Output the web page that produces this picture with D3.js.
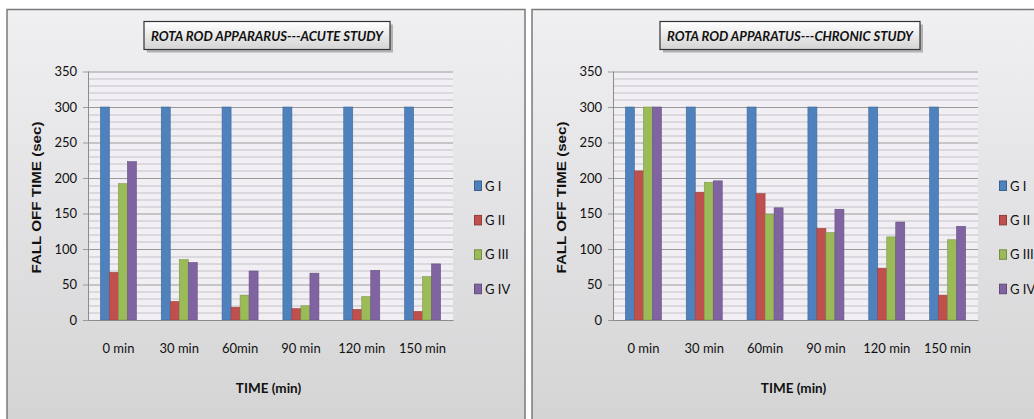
<!DOCTYPE html>
<html>
<head>
<meta charset="utf-8">
<script src="https://cdn.jsdelivr.net/npm/d3@7"></script>
<style>
  body { margin: 0; background: #fff; }
  svg { display: block; }
  .tick text { font-family: Lato, "Open Sans", sans-serif; }
</style>
</head>
<body>
<svg id="root" width="1034" height="419"></svg>
<script>
// Categories and series
const times = ["0 min", "30 min", "60min", "90 min", "120 min", "150 min"]
const groups = ["G I", "G II", "G III", "G IV"]
const colours = ["#4f81bd", "#c0504d", "#9bbb59", "#8064a2"]
const yTicks = [0, 50, 100, 150, 200, 250, 300, 350]

// Acute study, fall off time (sec)
const acuteGI = [300, 300, 300, 300, 300, 300]
const acuteGII = [67, 26, 18, 16, 15, 12]
const acuteGIII = [192, 85, 35, 20, 33, 61]
const acuteGIV = [223, 81, 69, 66, 70, 79]

// Chronic study, fall off time (sec)
const chronicGI = [300, 300, 300, 300, 300, 300]
const chronicGII = [210, 180, 178, 129, 73, 35]
const chronicGIII = [300, 194, 149, 123, 117, 113]
const chronicGIV = [300, 196, 158, 156, 138, 132]

const panels = [
  { x: 7, w: 518, titleX: 137, title: "ROTA ROD APPARARUS---ACUTE STUDY", titleW: 246,
    series: [acuteGI, acuteGII, acuteGIII, acuteGIV] },
  { x: 532, w: 520, titleX: 128, title: "ROTA ROD APPARATUS---CHRONIC STUDY", titleW: 260,
    series: [chronicGI, chronicGII, chronicGIII, chronicGIV] }
]

const svg = d3.select("#root")
const defs = svg.append("defs")

let bg = defs.append("linearGradient").attr("id", "panelBg")
  .attr("x1", 0).attr("y1", 0).attr("x2", 0).attr("y2", 1)
bg.append("stop").attr("offset", 0).attr("stop-color", "#f0eff2")
bg.append("stop").attr("offset", 1).attr("stop-color", "#d3d3d4")

let tb = defs.append("linearGradient").attr("id", "titleBg")
  .attr("x1", 0).attr("y1", 0).attr("x2", 0).attr("y2", 1)
tb.append("stop").attr("offset", 0).attr("stop-color", "#ffffff")
tb.append("stop").attr("offset", 1).attr("stop-color", "#d4d4d4")

panels.forEach(drawPanel)

function drawPanel(p) {
  const g = svg.append("g").attr("transform", `translate(${p.x},9.5)`)

  // Panel frame
  g.append("rect")
    .attr("width", p.w).attr("height", 430)
    .attr("fill", "url(#panelBg)")
    .attr("stroke", "#7a7a7a").attr("stroke-width", 1.5)

  // Title box with shadow
  const tx = p.titleX
  g.append("rect")
    .attr("x", tx + 3).attr("y", 15).attr("width", p.titleW).attr("height", 28)
    .attr("fill", "#8a8a8a").attr("opacity", 0.6)
  g.append("rect")
    .attr("x", tx).attr("y", 12).attr("width", p.titleW).attr("height", 28)
    .attr("fill", "url(#titleBg)")
    .attr("stroke", "#333").attr("stroke-width", 1.2)
  g.append("text")
    .attr("x", tx + p.titleW / 2).attr("y", 31.5)
    .attr("text-anchor", "middle")
    .attr("font-family", "Lato, sans-serif")
    .attr("font-style", "italic")
    .attr("font-weight", "bold")
    .attr("font-size", 14)
    .attr("textLength", p.titleW - 14)
    .attr("lengthAdjust", "spacingAndGlyphs")
    .attr("fill", "#111")
    .text(p.title)

  // Plot area
  const plot = { left: 81, top: 62, width: 365, height: 248.5 }
  const x = d3.scaleBand().domain(times)
    .range([0, plot.width]).paddingInner(0.408).paddingOuter(0.204)
  const xs = d3.scaleBand().domain(groups).range([0, x.bandwidth()])
  const y = d3.scaleLinear().domain([0, 350]).range([plot.height, 0])

  const pg = g.append("g").attr("transform", `translate(${plot.left},${plot.top})`)
  pg.append("rect")
    .attr("width", plot.width).attr("height", plot.height)
    .attr("fill", "#f1eff3")

  // Minor gridlines every 10
  pg.append("g").selectAll("line")
    .data(d3.range(10, 350, 10).filter(v => v % 50 !== 0))
    .join("line")
    .attr("x1", 0).attr("x2", plot.width)
    .attr("y1", d => Math.round(y(d)) + 0.5).attr("y2", d => Math.round(y(d)) + 0.5)
    .attr("stroke", "#c4c2c6").attr("stroke-width", 1)

  // Major gridlines + y axis
  const yAxis = d3.axisLeft(y).tickValues(yTicks).tickSize(-plot.width).tickPadding(11)
  pg.append("g").call(yAxis)
    .call(a => a.select(".domain").remove())
    .call(a => a.selectAll(".tick line").attr("stroke", "#9a9a9a").attr("x1", -5))
    .call(a => a.selectAll(".tick text").attr("font-size", 13).attr("fill", "#111"))
  pg.append("line")
    .attr("x1", 0.5).attr("x2", 0.5).attr("y1", 0).attr("y2", plot.height)
    .attr("stroke", "#8c8c8c")

  // Bars
  const grp = pg.selectAll("g.group")
    .data(times)
    .join("g").attr("class", "group")
    .attr("transform", t => `translate(${x(t)},0)`)
  grp.selectAll("rect")
    .data((t, i) => groups.map((s, j) => ({ s, j, v: p.series[j][i] })))
    .join("rect")
    .attr("x", d => xs(d.s))
    .attr("width", xs.bandwidth())
    .attr("y", d => y(d.v))
    .attr("height", d => plot.height - y(d.v))
    .attr("fill", d => colours[d.j])
    .attr("stroke", d => d3.color(colours[d.j]).darker(0.6))
    .attr("stroke-width", 0.6)

  // X axis
  const xAxis = d3.axisBottom(x).tickSize(0).tickPadding(24)
  pg.append("g").attr("transform", `translate(0,${plot.height})`).call(xAxis)
    .call(a => a.select(".domain").attr("stroke", "#8c8c8c"))
    .call(a => a.selectAll(".tick text").attr("font-size", 13).attr("fill", "#111"))

  // Axis titles
  g.append("text")
    .attr("transform", `translate(34,188) rotate(-90)`)
    .attr("text-anchor", "middle")
    .attr("font-family", "Liberation Sans, Arial, sans-serif")
    .attr("font-weight", "bold")
    .attr("font-size", 13.5)
    .attr("textLength", 152)
    .attr("lengthAdjust", "spacingAndGlyphs")
    .attr("fill", "#111")
    .text("FALL OFF TIME  (sec)")
  g.append("text")
    .attr("x", plot.left + plot.width / 2 - 2).attr("y", 383)
    .attr("text-anchor", "middle")
    .attr("font-family", "Lato, sans-serif")
    .attr("font-weight", "bold")
    .attr("font-size", 13.5)
    .attr("fill", "#111")
    .text("TIME (min)")

  // Legend
  const lg = g.append("g").attr("transform", "translate(467,171)")
  const item = lg.selectAll("g")
    .data(groups)
    .join("g")
    .attr("transform", (d, i) => `translate(0,${i * 34.4})`)
  item.append("rect")
    .attr("x", 0.5).attr("y", 0.5).attr("width", 7).attr("height", 9.5)
    .attr("fill", (d, i) => colours[i])
    .attr("stroke", (d, i) => d3.color(colours[i]).darker(0.8))
  item.append("text")
    .attr("x", 11).attr("y", 10)
    .attr("font-family", "Liberation Sans Narrow, Lato, sans-serif")
    .attr("font-size", 13)
    .attr("fill", "#111")
    .text(d => d)
}
</script>
</body>
</html>
